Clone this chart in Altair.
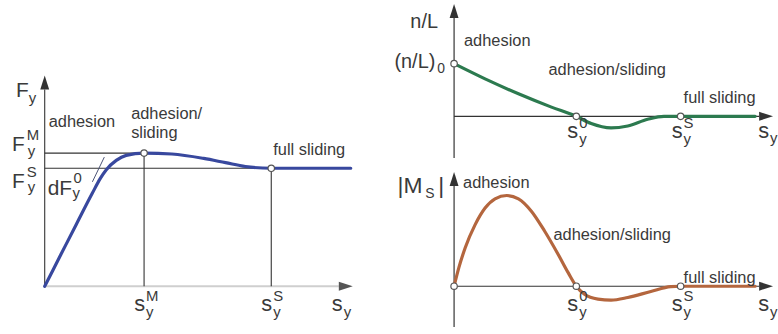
import altair as alt
import pandas as pd

FONT = "Liberation Sans"
INK = "#3a3a3a"
AXIS = "#333333"
BLUE = "#38489e"
GREEN = "#2c7a4f"
BROWN = "#b4663e"
REGION_SIZE = 16.5

# ---- characteristic slip values (shared slip scale, 40 px per unit) ----
S_M = 2.5     # slip at force maximum
S_0 = 3.075   # slip where trail and aligning torque change sign
S_S = 5.7     # slip where full sliding begins

# ---- left: lateral force F_y over lateral slip s_y ----
fy_s = [0.0, 0.4, 0.8, 1.2, 1.4, 1.55, 1.8, 2.05, 2.5, 3.2, 4.0, 4.55, 5.05, 5.7, 7.7]
fy_val = [0.0, 0.234, 0.468, 0.70, 0.81, 0.875, 0.945, 0.983, 1.0, 0.993, 0.96, 0.928, 0.899, 0.886, 0.886]
F_M = 1.0
F_S = 0.886
tan_s = [1.2, 1.5]          # short piece of the initial tangent dF_y^0
tan_f = [0.784, 0.97]

# ---- top right: pneumatic trail n/L ----
nl_s = [0.0, 0.78, 1.62, 2.45, 3.075, 3.45, 3.95, 4.37, 4.87, 5.28, 5.7, 7.575]
nl_val = [1.0, 0.711, 0.428, 0.175, 0.0, -0.138, -0.221, -0.183, -0.057, 0.0, 0.0, 0.0]
NL_0 = 1.0

# ---- bottom right: self-aligning torque |M_S| ----
ms_s = [0.0, 0.12, 0.28, 0.53, 0.78, 1.03, 1.325, 1.62, 1.95, 2.28, 2.62, 2.87,
        3.075, 3.28, 3.62, 3.95, 4.37, 4.95, 5.45, 5.7, 7.575]
ms_val = [0.0, 0.205, 0.424, 0.679, 0.862, 0.964, 1.0, 0.964, 0.825, 0.606, 0.35, 0.15,
          0.0, -0.088, -0.142, -0.153, -0.124, -0.058, -0.005, 0.0, 0.0]

# ---- panel geometry (pixels) ----
KX = 40.0
L_W, L_H, L_OX, L_OY, L_KY = 380, 334, 45, 287, 134.0
R_W, R_H, R_OX = 388, 167, 67
T_OY, T_KY = 116, 53.0
B_OY, B_KY = 120, 91.3

ARROW_UP = "M0,-1L0.64,1L-0.64,1Z"
ARROW_RIGHT = "M1,0L-1,0.64L-1,-0.64Z"
ARROW_LEN = 14


def scales(w, h, ox, oy, ky):
    sx = alt.Scale(domain=[-ox / KX, (w - ox) / KX], nice=False, zero=False)
    sy = alt.Scale(domain=[-(h - oy) / ky, oy / ky], nice=False, zero=False)
    return sx, sy


def xy(sx, sy):
    return dict(x=alt.X("x:Q", scale=sx, axis=None), y=alt.Y("y:Q", scale=sy, axis=None))


def segments(rows, sx, sy, color, width):
    df = pd.DataFrame(rows, columns=["x", "y", "x2", "y2"])
    return alt.Chart(df).mark_rule(color=color, strokeWidth=width).encode(
        x2="x2:Q", y2="y2:Q", **xy(sx, sy))


def curve(xs, ys, sx, sy, color, width=3.2):
    df = pd.DataFrame({"x": xs, "y": ys})
    return alt.Chart(df).mark_line(color=color, strokeWidth=width, interpolate="monotone",
                                   strokeCap="round", strokeJoin="round").encode(**xy(sx, sy))


def rings(xs, ys, sx, sy):
    df = pd.DataFrame({"x": xs, "y": ys})
    return alt.Chart(df).mark_point(shape="circle", filled=True, fill="white", stroke="#555555",
                                    strokeWidth=1.2, size=42, opacity=1).encode(**xy(sx, sy))


def arrow(x, y, shape, sx, sy, color):
    df = pd.DataFrame({"x": [x], "y": [y]})
    return alt.Chart(df).mark_point(shape=shape, filled=True, color=color, size=ARROW_LEN ** 2,
                                    opacity=1).encode(**xy(sx, sy))


def labels(rows, ky, sx, sy):
    # rows: text, anchor x, anchor y, pixel offset right, pixel offset down, font size
    df = pd.DataFrame([{"t": t, "x": ax + dx / KX, "y": ay - dy / ky, "s": fs}
                       for t, ax, ay, dx, dy, fs in rows])
    return alt.Chart(df).mark_text(align="left", baseline="alphabetic", font=FONT, color=INK).encode(
        text="t:N", size=alt.Size("s:Q", scale=None, legend=None), **xy(sx, sy))


def slip_ticks(items, dy_base, dy_sup, dy_sub, dx_base, dx_script):
    rows = []
    for lab, s in items:
        rows += [("s", s, 0, dx_base, dy_base, 22), (lab, s, 0, dx_script, dy_sup, 15),
                 ("y", s, 0, dx_script, dy_sub, 15)]
    return rows


# ================= left panel =================
sxL, syL = scales(L_W, L_H, L_OX, L_OY, L_KY)
Y_TIP_L = (L_OY - 75) / L_KY
X_TIP_L = (355 - L_OX) / KX
left_rows = [
    ("F", 0, Y_TIP_L, -29, 22, 21), ("y", 0, Y_TIP_L, -16, 28, 15),
    ("adhesion", 0, F_M, 4, -26, REGION_SIZE),
    ("adhesion/", S_M, F_M, -13, -34, REGION_SIZE), ("sliding", S_M, F_M, -13, -15, REGION_SIZE),
    ("full sliding", S_S, F_S, 2, -13, REGION_SIZE),
    ("F", 0, F_M, -33, -2, 21), ("M", 0, F_M, -18, -13, 15), ("y", 0, F_M, -17, 3, 15),
    ("F", 0, F_S, -33, 20, 21), ("S", 0, F_S, -18, 9, 15), ("y", 0, F_S, -17, 24, 15),
    ("dF", 0, F_S, 3, 27, 21), ("0", 0, F_S, 29, 15, 15), ("y", 0, F_S, 28, 30, 15),
    ("s", X_TIP_L, 0, -21, 25, 22), ("y", X_TIP_L, 0, -9, 31, 15),
] + slip_ticks([("M", S_M), ("S", S_S)], 25, 15, 31, -10, 2)

left = alt.layer(
    segments([(0, 0, X_TIP_L - ARROW_LEN / KX, 0)], sxL, syL, "#cfcfcf", 2),
    arrow(X_TIP_L - ARROW_LEN / 2 / KX, 0, ARROW_RIGHT, sxL, syL, "#555555"),
    segments([(0, 0, 0, Y_TIP_L - ARROW_LEN / L_KY),
              (0, F_M, S_M, F_M), (0, F_S, S_S, F_S),
              (S_M, 0, S_M, F_M), (S_S, 0, S_S, F_S)], sxL, syL, AXIS, 1.1),
    arrow(0, Y_TIP_L - ARROW_LEN / 2 / L_KY, ARROW_UP, sxL, syL, AXIS),
    segments([(tan_s[0], tan_f[0], tan_s[1], tan_f[1])], sxL, syL, "#4a5275", 1),
    curve(fy_s, fy_val, sxL, syL, BLUE),
    rings([S_M, S_S], [F_M, F_S], sxL, syL),
    labels(left_rows, L_KY, sxL, syL),
).properties(width=L_W, height=L_H)

# ================= top right panel =================
sxT, syT = scales(R_W, R_H, R_OX, T_OY, T_KY)
X_TIP_R = (388 - R_OX) / KX
Y_TIP_T = (T_OY - 3) / T_KY
top_rows = [
    ("n/L", 0, Y_TIP_T, -44, 24, 20),
    ("(n/L)", 0, NL_0, -60, 4, 20), ("0", 0, NL_0, -17, 9, 14),
    ("adhesion", 0, NL_0, 10, -18, REGION_SIZE),
    ("adhesion/sliding", S_0, 0, -28, -42, REGION_SIZE),
    ("full sliding", S_S, 0, 3, -13, REGION_SIZE),
    ("s", X_TIP_R, 0, -15, 22, 22), ("y", X_TIP_R, 0, -3, 27, 15),
] + slip_ticks([("0", S_0), ("S", S_S)], 22, 12, 28, -9, 3)

top = alt.layer(
    segments([(0, 0, X_TIP_R - ARROW_LEN / KX, 0),
              (0, -(158 - T_OY) / T_KY, 0, Y_TIP_T - ARROW_LEN / T_KY)], sxT, syT, AXIS, 1.2),
    arrow(X_TIP_R - ARROW_LEN / 2 / KX, 0, ARROW_RIGHT, sxT, syT, AXIS),
    arrow(0, Y_TIP_T - ARROW_LEN / 2 / T_KY, ARROW_UP, sxT, syT, AXIS),
    curve(nl_s, nl_val, sxT, syT, GREEN),
    rings([0, S_0, S_S], [NL_0, 0, 0], sxT, syT),
    labels(top_rows, T_KY, sxT, syT),
).properties(width=R_W, height=R_H)

# ================= bottom right panel =================
sxB, syB = scales(R_W, R_H, R_OX, B_OY, B_KY)
Y_TIP_B = (B_OY - 5) / B_KY
bottom_rows = [
    ("|M", 0, Y_TIP_B, -57, 21, 23), ("S", 0, Y_TIP_B, -29, 26, 14), ("|", 0, Y_TIP_B, -16, 21, 23),
    ("adhesion", 0, Y_TIP_B, 9, 16, REGION_SIZE),
    ("adhesion/sliding", S_0, 0, -23, -47, REGION_SIZE),
    ("full sliding", S_S, 0, 3, -3, REGION_SIZE),
    ("s", X_TIP_R, 0, -15, 25, 22), ("y", X_TIP_R, 0, -3, 31, 15),
] + slip_ticks([("0", S_0), ("S", S_S)], 25, 15, 31, -9, 3)

bottom = alt.layer(
    segments([(0, 0, X_TIP_R - ARROW_LEN / KX, 0),
              (0, -(161 - B_OY) / B_KY, 0, Y_TIP_B - ARROW_LEN / B_KY)], sxB, syB, AXIS, 1.2),
    arrow(X_TIP_R - ARROW_LEN / 2 / KX, 0, ARROW_RIGHT, sxB, syB, AXIS),
    arrow(0, Y_TIP_B - ARROW_LEN / 2 / B_KY, ARROW_UP, sxB, syB, AXIS),
    curve(ms_s, ms_val, sxB, syB, BROWN),
    rings([0, S_0, S_S], [0, 0, 0], sxB, syB),
    labels(bottom_rows, B_KY, sxB, syB),
).properties(width=R_W, height=R_H)

right = alt.vconcat(top, bottom, spacing=0, bounds="flush")
chart = alt.hconcat(left, right, spacing=10, bounds="flush", padding=0,
                    background="white").configure_view(stroke=None)

chart.save("out.html", embed_options={"renderer": "svg", "actions": False})
